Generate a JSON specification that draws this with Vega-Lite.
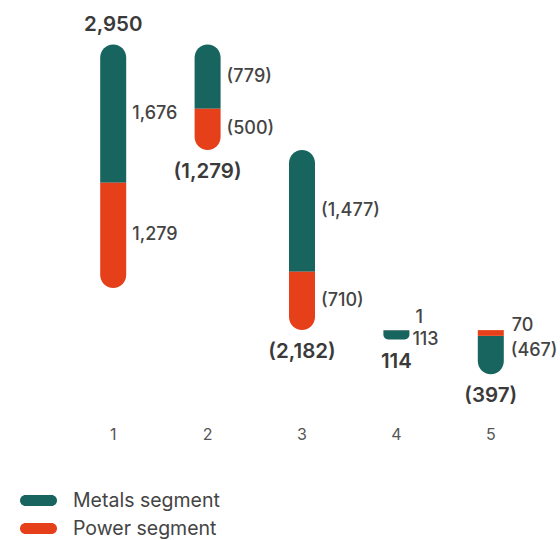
{
  "$schema": "https://vega.github.io/schema/vega-lite/v6.json",
  "width": 472,
  "height": 410,
  "autosize": {"type": "none"},
  "padding": {"left": 66, "top": 10, "right": 22, "bottom": 120},
  "background": "white",
  "config": {"view": {"stroke": null}, "font": "Inter"},
  "datasets": {
    "segments": [
      {"bar": 1, "segment": "Power segment", "value": 1279, "from": 0, "to": 1279},
      {"bar": 1, "segment": "Metals segment", "value": 1676, "from": 1279, "to": 2955},
      {"bar": 2, "segment": "Metals segment", "value": -779, "from": 2955, "to": 2176},
      {"bar": 2, "segment": "Power segment", "value": -500, "from": 2176, "to": 1676},
      {"bar": 3, "segment": "Metals segment", "value": -1477, "from": 1676, "to": 199},
      {"bar": 3, "segment": "Power segment", "value": -710, "from": 199, "to": -511},
      {"bar": 4, "segment": "Power segment", "value": 1, "from": -511, "to": -512},
      {"bar": 4, "segment": "Metals segment", "value": 113, "from": -512, "to": -625},
      {"bar": 5, "segment": "Power segment", "value": 70, "from": -511, "to": -581},
      {"bar": 5, "segment": "Metals segment", "value": -467, "from": -581, "to": -1048}
    ],
    "totals": [
      {"bar": 1, "total": 2950, "anchor": 2955},
      {"bar": 2, "total": -1279, "anchor": 1676},
      {"bar": 3, "total": -2182, "anchor": -511},
      {"bar": 4, "total": 114, "anchor": -625},
      {"bar": 5, "total": -397, "anchor": -1048}
    ]
  },
  "encoding": {
    "x": {
      "field": "bar",
      "type": "ordinal",
      "scale": {"domain": [1, 2, 3, 4, 5], "paddingInner": 0, "paddingOuter": 0},
      "axis": {
        "title": null,
        "domain": false,
        "ticks": false,
        "grid": false,
        "labelAngle": 0,
        "labelPadding": 6,
        "labelFont": "Inter",
        "labelFontSize": 16,
        "labelColor": "#555555"
      }
    }
  },
  "layer": [
    {
      "data": {"name": "segments"},
      "transform": [
        {"calculate": "max(datum.from, datum.to)", "as": "hi"},
        {"joinaggregate": [{"op": "max", "field": "hi", "as": "barTop"}], "groupby": ["bar"]},
        {"calculate": "datum.hi === datum.barTop ? 'top' : 'bottom'", "as": "pos"}
      ],
      "encoding": {
        "y": {"field": "from", "type": "quantitative", "scale": {"domain": [-1602, 3375], "nice": false, "zero": false}, "axis": null},
        "y2": {"field": "to"},
        "color": {
          "field": "segment",
          "type": "nominal",
          "scale": {"domain": ["Metals segment", "Power segment"], "range": ["#18645F", "#E5401A"]},
          "legend": {
            "orient": "none",
            "legendX": -46,
            "legendY": 472,
            "title": null,
            "symbolType": "M-0.703,-0.297H0.703A0.297,0.297,0,0,1,0.703,0.297H-0.703A0.297,0.297,0,0,1,-0.703,-0.297Z",
            "symbolSize": 1369,
            "symbolStrokeWidth": 0,
            "labelFont": "Inter",
            "labelFontSize": 19.5,
            "labelColor": "#444444",
            "labelOffset": 16,
            "rowPadding": -1
          }
        }
      },
      "layer": [
        {
          "transform": [{"filter": "datum.pos === 'top' && datum.bar <= 3"}],
          "mark": {"type": "bar", "width": 26, "cornerRadiusTopLeft": 13, "cornerRadiusTopRight": 13}
        },
        {
          "transform": [{"filter": "datum.pos === 'bottom'"}],
          "mark": {"type": "bar", "width": 26, "cornerRadiusBottomLeft": 13, "cornerRadiusBottomRight": 13}
        },
        {
          "transform": [{"filter": "datum.pos === 'top' && datum.bar > 3"}],
          "mark": {"type": "bar", "width": 26}
        }
      ]
    },
    {
      "data": {"name": "segments"},
      "transform": [{"calculate": "(datum.from + datum.to) / 2", "as": "mid"}],
      "encoding": {
        "y": {"field": "mid", "type": "quantitative", "scale": {"domain": [-1602, 3375], "nice": false, "zero": false}, "axis": null},
        "text": {"field": "value", "type": "quantitative", "format": "(,.0f"}
      },
      "layer": [
        {
          "transform": [{"filter": "datum.bar <= 3"}],
          "mark": {"type": "text", "align": "left", "baseline": "middle", "dx": 19, "fontSize": 18, "fontWeight": 500, "color": "#444444"}
        },
        {
          "transform": [{"filter": "datum.bar === 4 && datum.segment === 'Power segment'"}],
          "mark": {"type": "text", "align": "left", "baseline": "middle", "dx": 19, "dy": -12, "fontSize": 18, "fontWeight": 500, "color": "#444444"}
        },
        {
          "transform": [{"filter": "datum.bar === 4 && datum.segment === 'Metals segment'"}],
          "mark": {"type": "text", "align": "left", "baseline": "middle", "dx": 16, "dy": 5, "fontSize": 18, "fontWeight": 500, "color": "#444444"}
        },
        {
          "transform": [{"filter": "datum.bar === 5 && datum.segment === 'Power segment'"}],
          "mark": {"type": "text", "align": "left", "baseline": "middle", "dx": 21, "dy": -7, "fontSize": 18, "fontWeight": 500, "color": "#444444"}
        },
        {
          "transform": [{"filter": "datum.bar === 5 && datum.segment === 'Metals segment'"}],
          "mark": {"type": "text", "align": "left", "baseline": "middle", "dx": 20, "dy": -4, "fontSize": 18, "fontWeight": 500, "color": "#444444"}
        }
      ]
    },
    {
      "data": {"name": "totals"},
      "encoding": {
        "y": {"field": "anchor", "type": "quantitative", "scale": {"domain": [-1602, 3375], "nice": false, "zero": false}, "axis": null},
        "text": {"field": "total", "type": "quantitative", "format": "(,.0f"}
      },
      "layer": [
        {
          "transform": [{"filter": "datum.bar === 1"}],
          "mark": {"type": "text", "align": "center", "baseline": "middle", "dy": -20, "fontSize": 20.5, "fontWeight": 600, "color": "#3a3a3a"}
        },
        {
          "transform": [{"filter": "datum.bar > 1"}],
          "mark": {"type": "text", "align": "center", "baseline": "middle", "dy": 22, "fontSize": 20.5, "fontWeight": 600, "color": "#3a3a3a"}
        }
      ]
    }
  ]
}
